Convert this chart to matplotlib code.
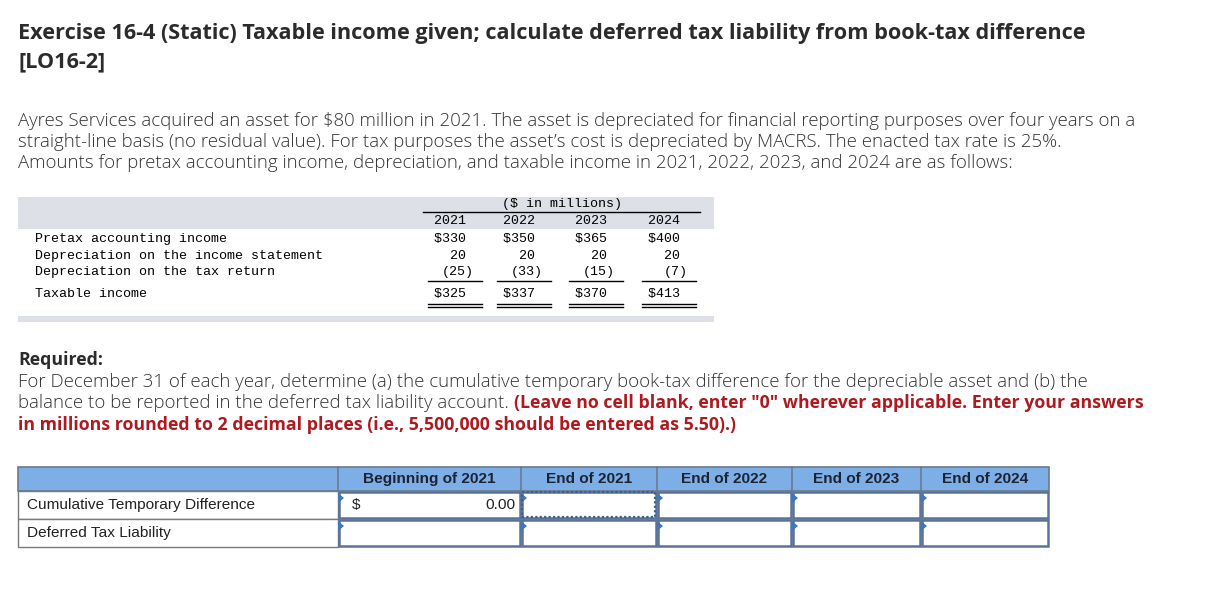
import matplotlib
matplotlib.use("Agg")
import matplotlib.pyplot as plt
from matplotlib.patches import Rectangle, Polygon

# data from the exercise
years = ["2021", "2022", "2023", "2024"]
row_labels = ["Pretax accounting income",
              "Depreciation on the income statement",
              "Depreciation on the tax return",
              "Taxable income"]
pretax_income = [330, 350, 365, 400]
book_depr = [20, 20, 20, 20]
tax_depr = [25, 33, 15, 7]
taxable_income = [325, 337, 370, 413]

answer_cols = ["Beginning of 2021", "End of 2021", "End of 2022",
               "End of 2023", "End of 2024"]
answer_rows = ["Cumulative Temporary Difference", "Deferred Tax Liability"]
begin_value = "0.00"

title = ("Exercise 16-4 (Static) Taxable income given; calculate deferred tax "
         "liability from book-tax difference")
intro = ["Ayres Services acquired an asset for $80 million in 2021. The asset is depreciated "
         "for financial reporting purposes over four years on a",
         "straight-line basis (no residual value). For tax purposes the asset\u2019s cost is "
         "depreciated by MACRS. The enacted tax rate is 25%.",
         "Amounts for pretax accounting income, depreciation, and taxable income in 2021, "
         "2022, 2023, and 2024 are as follows:"]

W, H = 1213, 592
fig = plt.figure(figsize=(W / 100, H / 100), dpi=100)
ax = fig.add_axes([0, 0, 1, 1])
ax.set_xlim(0, W)
ax.set_ylim(H, 0)
ax.axis("off")

sans = "Open Sans"
mono = "Liberation Mono"
arial = "Liberation Sans"
dark = "#2b2b2b"
red = "#ad1a20"
body = 13.4
body_b = 12.75
tfs = 15.6

# heading
ax.text(18, 33, title, fontsize=tfs, fontweight="bold", family=sans, color=dark, va="center")
ax.text(18, 62, "[LO16-2]", fontsize=tfs, fontweight="bold", family=sans, color=dark, va="center")

for i, line in enumerate(intro):
    ax.text(18, 121 + i * 21, line, fontsize=body, fontweight="light", family=sans,
            color="#333333", va="center")

# given data table
gray = "#dde0e6"
ax.add_patch(Rectangle((18, 197), 696, 32, color=gray, lw=0))
ax.add_patch(Rectangle((18, 316), 696, 6, color=gray, lw=0))

col_left = [428, 497, 569, 642]
col_w = 56
ax.plot([423, 700], [212, 212], color="black", lw=1)
ax.text(562, 204, "($ in millions)", fontsize=9.6, family=mono, ha="center", va="center")

row_y = [239, 256, 272, 294]
for lab, y in zip(row_labels, row_y):
    ax.text(35, y, lab, fontsize=9.6, family=mono, va="center")

def money(v):
    return "$%d " % v

def paren(v):
    return "(%d)" % v

for j, x0 in enumerate(col_left):
    xr = x0 + col_w - 10
    ax.text(xr, 221, years[j] + " ", fontsize=9.6, family=mono, ha="right", va="center")
    ax.text(xr, row_y[0], money(pretax_income[j]), fontsize=9.6, family=mono, ha="right", va="center")
    ax.text(xr, row_y[1], "%d " % book_depr[j], fontsize=9.6, family=mono, ha="right", va="center")
    ax.text(xr, row_y[2], paren(tax_depr[j]), fontsize=9.6, family=mono, ha="right", va="center")
    ax.text(xr, row_y[3], money(taxable_income[j]), fontsize=9.6, family=mono, ha="right", va="center")
    ax.plot([x0, x0 + col_w - 2], [281, 281], color="black", lw=1)
    ax.plot([x0, x0 + col_w - 2], [304, 304], color="black", lw=1)
    ax.plot([x0, x0 + col_w - 2], [307, 307], color="black", lw=1)

# required section
ax.text(18, 360, "Required:", fontsize=body_b, fontweight="bold", family=sans, color=dark, va="center")
ax.text(18, 382, "For December 31 of each year, determine (a) the cumulative temporary book-tax "
        "difference for the depreciable asset and (b) the",
        fontsize=body, fontweight="light", family=sans, color="#333333", va="center")
t = ax.text(18, 403, "balance to be reported in the deferred tax liability account. ",
            fontsize=body, fontweight="light", family=sans, color="#333333", va="center")
ax.annotate("(Leave no cell blank, enter \"0\" wherever applicable. Enter your answers",
            xy=(1, 0.5), xycoords=t, va="center", ha="left",
            fontsize=body_b, fontweight="bold", family=sans, color=red)
ax.text(18, 425, "in millions rounded to 2 decimal places (i.e., 5,500,000 should be entered as 5.50).)",
        fontsize=body_b, fontweight="bold", family=sans, color=red, va="center")

# answer table
edges = [18, 338, 521, 657, 792, 921, 1049]
top, hdr_b = 467, 491
row_b = [519, 547]
afs = 11.1
ax.add_patch(Rectangle((edges[0], top), edges[-1] - edges[0], hdr_b - top,
                       facecolor="#7eaee6", edgecolor="#6a7a8e", lw=1.2))
for k in range(1, len(edges) - 1):
    ax.plot([edges[k], edges[k]], [top, hdr_b], color="#6a7a8e", lw=1.2)
for k, name in enumerate(answer_cols):
    ax.text((edges[k + 1] + edges[k + 2]) / 2, 479, name, fontsize=afs, fontweight="bold",
            family=arial, color="#1c2333", ha="center", va="center")

prev = hdr_b
for r, name in enumerate(answer_rows):
    y0, y1 = prev, row_b[r]
    ax.add_patch(Rectangle((edges[0], y0), edges[1] - edges[0], y1 - y0,
                           facecolor="white", edgecolor="#7a7a7a", lw=1))
    ax.text(27, (y0 + y1) / 2, name, fontsize=afs, family=arial, color="#222222", va="center")
    for k in range(1, len(edges) - 1):
        x0, x1 = edges[k], edges[k + 1]
        ax.add_patch(Rectangle((x0 + 1, y0 + 1), x1 - x0 - 2, y1 - y0 - 2,
                               facecolor="white", edgecolor="#5a7397", lw=1.8))
        ax.add_patch(Polygon([[x0, y0 + 2], [x0, y0 + 12], [x0 + 6, y0 + 7]],
                             closed=True, color="#3a78c0", lw=0))
    prev = y1

# focus outline on End of 2021 first row
ax.add_patch(Rectangle((edges[2] + 1, hdr_b + 1), edges[3] - edges[2] - 3, row_b[0] - hdr_b - 3,
                       fill=False, edgecolor="#3f5f8f", lw=1.6, ls=(0, (1, 1))))
ax.text(352, 505, "$", fontsize=afs, family=arial, color="#222222", va="center")
ax.text(516, 505, begin_value, fontsize=afs, family=arial, color="#222222", va="center", ha="right")

fig.savefig("out.png", dpi=100, facecolor="white")
